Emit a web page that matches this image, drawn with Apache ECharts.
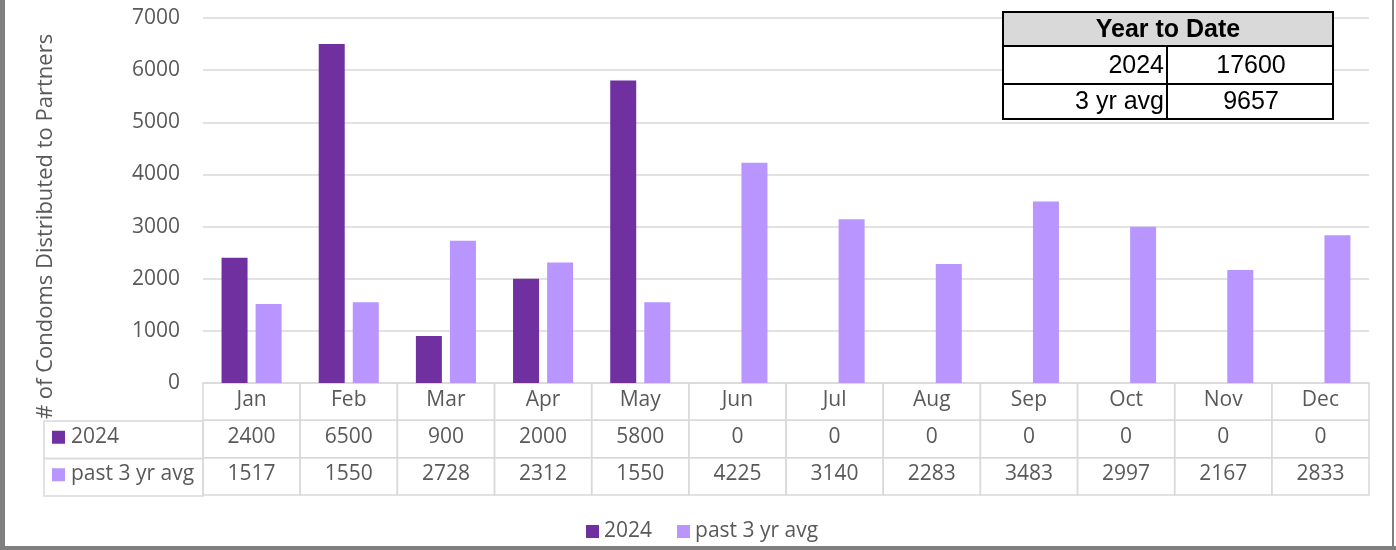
<!DOCTYPE html>
<html>
<head>
<meta charset="utf-8">
<script src="https://cdn.jsdelivr.net/npm/echarts@6/dist/echarts.min.js"></script>
<style>
html,body{margin:0;padding:0;background:#fff;}
#chart{width:1396px;height:550px;}
</style>
</head>
<body>
<div id="chart"></div>
<script>
// ---- data ----
const months = ['Jan','Feb','Mar','Apr','May','Jun','Jul','Aug','Sep','Oct','Nov','Dec'];
const series2024 = [2400,6500,900,2000,5800,0,0,0,0,0,0,0];
const seriesAvg = [1517,1550,2728,2312,1550,4225,3140,2283,3483,2997,2167,2833];
const seriesNames = ['2024','past 3 yr avg'];
const yTicks = {min:0, max:7000, interval:1000};
const ytdTitle = 'Year to Date';
const ytdLabels = ['2024','3 yr avg'];
const ytdValues = [17600, 9657];
const yAxisTitle = '# of Condoms Distributed to Partners';

// ---- styles ----
const C1 = '#7030a0', C2 = '#b996ff';
const TXT = '#595959', LINE = '#d9d9d9';
const FONT = '"Open Sans", sans-serif';
const FS = 21;

const chart = echarts.init(document.getElementById('chart'));

// table cells built from arrays
const rows = [months, series2024, seriesAvg];
const cellData = [], cellText = [];
rows.forEach((r, ri) => r.forEach((v, ci) => { cellData.push([ci, ri]); cellText.push(String(v)); }));

function renderCell(params, api) {
  const c = api.coord([api.value(0), api.value(1)]);
  const s = api.size([1, 1]);
  return {
    type: 'group',
    children: [
      {type:'rect', shape:{x:c[0]-s[0]/2, y:c[1]-s[1]/2, width:s[0], height:s[1]},
       style:{fill:'none', stroke:LINE, lineWidth:1.5}},
      {type:'text', x:c[0], y:c[1]-2,
       style:{text:cellText[params.dataIndex], fill:TXT, font:FS + 'px ' + FONT, align:'center', verticalAlign:'middle'}}
    ]
  };
}

// left column of the data table (row headers)
const rowTop = 421, rowH = 37.5, colL = 44, colR = 203;
const leftCol = [];
[C1, C2].forEach((col, i) => {
  const y0 = rowTop + i * rowH;
  leftCol.push({type:'rect', z:50, shape:{x:colL, y:y0, width:colR-colL, height:rowH},
    style:{fill:'none', stroke:LINE, lineWidth:1.5}});
  leftCol.push({type:'rect', z:50, shape:{x:52, y:y0 + rowH/2 - 9, width:13, height:13}, style:{fill:col}});
  leftCol.push({type:'text', z:50, x:71, y:y0 + rowH/2 - 3,
    style:{text:seriesNames[i], fill:TXT, font:FS + 'px ' + FONT, align:'left', verticalAlign:'middle'}});
});

// Year-to-date box
const bx = 1003, by = 12, bw = 330, hH = 34, r1 = 38, r2 = 35, div = 1167;
const YF = '"Liberation Sans", Arial, sans-serif';
const ytd = [
  {type:'rect', z:100, shape:{x:bx, y:by, width:bw, height:hH}, style:{fill:'#d9d9d9', stroke:'#000', lineWidth:2}},
  {type:'text', z:101, x:bx + bw/2, y:by + hH/2 + 1, style:{text:ytdTitle, fill:'#000', font:'bold 25px ' + YF, align:'center', verticalAlign:'middle'}},
  {type:'rect', z:100, shape:{x:bx, y:by + hH, width:bw, height:r1 + r2}, style:{fill:'#fff', stroke:'#000', lineWidth:2}},
  {type:'line', z:101, shape:{x1:bx, y1:by + hH + r1, x2:bx + bw, y2:by + hH + r1}, style:{stroke:'#000', lineWidth:2}},
  {type:'line', z:101, shape:{x1:div, y1:by + hH, x2:div, y2:by + hH + r1 + r2}, style:{stroke:'#000', lineWidth:2}}
];
ytdLabels.forEach((lab, i) => {
  const cy = by + hH + (i === 0 ? r1/2 : r1 + r2/2) + 1;
  ytd.push({type:'text', z:101, x:div - 3, y:cy, style:{text:lab, fill:'#000', font:'25px ' + YF, align:'right', verticalAlign:'middle'}});
  ytd.push({type:'text', z:101, x:(div + bx + bw)/2 + 1, y:cy, style:{text:String(ytdValues[i]), fill:'#000', font:'25px ' + YF, align:'center', verticalAlign:'middle'}});
});

// outer frame
const frame = [
  {type:'rect', z:100, shape:{x:0, y:0, width:5, height:550}, style:{fill:'#7f7f7f'}},
  {type:'rect', z:100, shape:{x:0, y:546, width:1396, height:4}, style:{fill:'#7f7f7f'}},
  {type:'rect', z:100, shape:{x:1392, y:0, width:2, height:550}, style:{fill:'#7f7f7f'}}
];

chart.setOption({
  animation: false,
  backgroundColor: '#fff',
  textStyle: {fontFamily: FONT},
  grid: [
    {left:203, right:27, top:18, bottom:167},
    {left:203, right:27, top:383, bottom:55}
  ],
  legend: {
    data: seriesNames,
    left: 581, top: 516,
    icon: 'rect', itemWidth: 13, itemHeight: 13, itemGap: 25,
    textStyle: {color: TXT, fontSize: FS, fontFamily: FONT}
  },
  xAxis: [
    {type:'category', data:months, gridIndex:0,
     axisLine:{show:false}, axisTick:{show:false}, axisLabel:{show:false}, splitLine:{show:false}},
    {type:'category', data:months, gridIndex:1, show:false}
  ],
  yAxis: [
    {type:'value', gridIndex:0, min:yTicks.min, max:yTicks.max, interval:yTicks.interval,
     name: yAxisTitle, nameLocation:'middle', nameGap:146, nameRotate:90,
     nameTextStyle:{color:TXT, fontSize:22, fontFamily:FONT, padding:[0,52,0,0]},
     axisLine:{show:false}, axisTick:{show:false},
     axisLabel:{color:TXT, fontSize:FS, fontFamily:FONT, margin:23, formatter: v => String(v)},
     splitLine:{lineStyle:{color:LINE, width:1.5}}},
    {type:'category', data:['m','a','b'], gridIndex:1, inverse:true, show:false}
  ],
  series: [
    {name:seriesNames[0], type:'bar', data:series2024, xAxisIndex:0, yAxisIndex:0,
     barWidth:26, barGap:'31%', itemStyle:{color:C1}},
    {name:seriesNames[1], type:'bar', data:seriesAvg, xAxisIndex:0, yAxisIndex:0,
     barWidth:26, barGap:'31%', itemStyle:{color:C2}},
    {type:'custom', xAxisIndex:1, yAxisIndex:1, data:cellData, renderItem:renderCell, silent:true}
  ],
  graphic: [].concat(leftCol, ytd, frame)
});
</script>
</body>
</html>
